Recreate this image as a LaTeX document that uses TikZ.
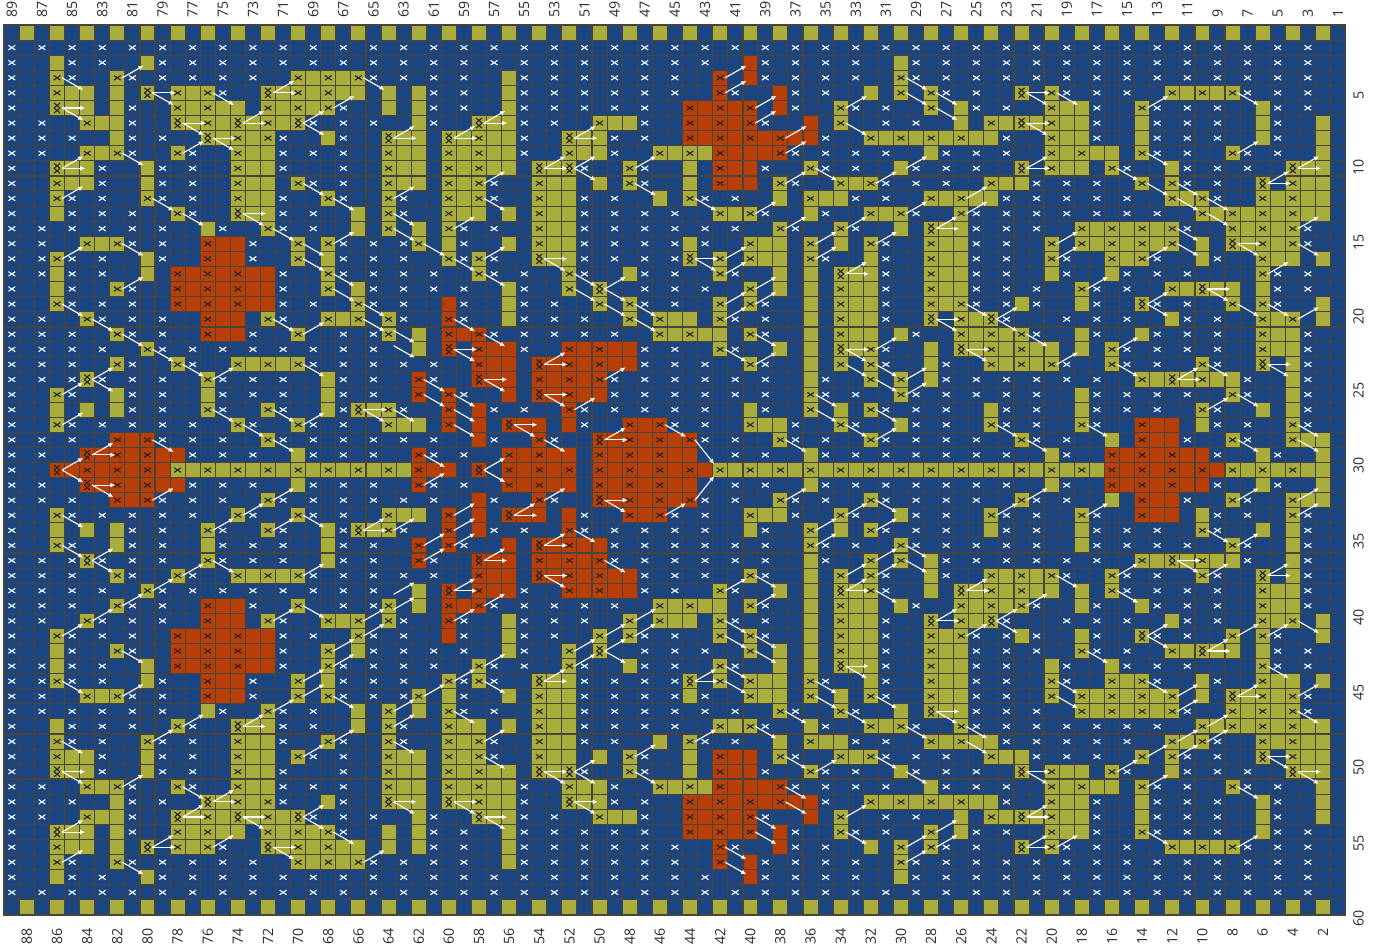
\documentclass[tikz,border=0pt]{standalone}
\usepackage{fontspec}
\setmainfont{Open Sans}
\usetikzlibrary{arrows.meta}
\definecolor{cblue}{RGB}{27,69,128}
\definecolor{colive}{RGB}{169,173,59}
\definecolor{cred}{RGB}{184,62,8}
\definecolor{cgrid}{RGB}{72,68,60}
\definecolor{clabel}{RGB}{45,45,45}
\tikzset{
  xmark/.style={line width=1.1pt,line cap=butt},
  arrowline/.style={white,line width=1.1pt,-{Latex[length=5pt,width=4.8pt]}},
  tick/.style={text=clabel,font=\fontsize{14.2}{15}\selectfont,inner sep=0pt,rotate=90}
}
\newcommand\putcell[3]{% row, col, colour
  \pgfmathsetmacro\xa{4.3+(89-#2)*15.07}\pgfmathsetmacro\ya{25+(#1-1)*15.085}
  \fill[#3] (\xa,\ya) rectangle ++(15.07,15.085);}
\newcommand\putx[3]{% row, col, colour
  \pgfmathsetmacro\xa{4.3+(89.5-#2)*15.07}\pgfmathsetmacro\ya{25+(#1-0.5)*15.085}
  \draw[xmark,#3] (\xa-3.4,\ya-2.3)--(\xa+3.4,\ya+2.3) (\xa-3.4,\ya+2.3)--(\xa+3.4,\ya-2.3);}
\newcommand\putxx[2]{%
  \pgfmathsetmacro\xa{4.3+(89.5-#2)*15.07}\pgfmathsetmacro\ya{25+(#1-0.5)*15.085}
  \draw[xmark,black!85] (\xa-3,\ya-5)--(\xa+3,\ya) (\xa-3,\ya)--(\xa+3,\ya-5)
     (\xa-3,\ya)--(\xa+3,\ya+5) (\xa-3,\ya+5)--(\xa+3,\ya);}
\newcommand\docell[3]{% row,col,char
  \if#3w\putx{#1}{#2}{white}\fi
  \if#3o\putcell{#1}{#2}{colive}\fi
  \if#3r\putcell{#1}{#2}{cred}\fi
  \if#3O\putcell{#1}{#2}{colive}\putx{#1}{#2}{black!85}\fi
  \if#3R\putcell{#1}{#2}{cred}\putx{#1}{#2}{black!85}\fi
  \if#3D\putcell{#1}{#2}{colive}\putxx{#1}{#2}\fi
  \if#3E\putcell{#1}{#2}{cred}\putxx{#1}{#2}\fi}
\newcount\curcol
\def\parserow#1{\ifx#1\relax\else
  \if#1.\else
    \docell{\the\numexpr\currow\relax}{\the\curcol}{#1}%
    \ifnum\currow<30 \docell{\the\numexpr60-\currow\relax}{\the\curcol}{#1}\fi
  \fi
  \advance\curcol by -1
  \expandafter\parserow\fi}
\newcommand\gridrow[2]{\def\currow{#1}\curcol=89 \parserow#2\relax}
\newcommand\onearrow[4]{% col,row,dr,shift
  \pgfmathsetmacro\xa{4.3+(89.5-#1)*15.07+5}\pgfmathsetmacro\ya{25+(#2-0.5)*15.085+#4}
  \pgfmathsetmacro\xb{4.3+(89.5-(#1-2))*15.07-2-2*abs(#3)}\pgfmathsetmacro\yb{25+(#2+#3-0.5)*15.085-3*#3+#4}
  \draw[arrowline] (\xa,\ya)--(\xb,\yb);}
\newcommand\twoarrow[4]{\onearrow{#1}{#2}{#3}{#4}\pgfmathtruncatemacro\mr{60-#2}\pgfmathtruncatemacro\md{-1*#3}\onearrow{#1}{\mr}{\md}{-#4}}
\begin{document}
\begin{tikzpicture}[x=1pt,y=-1pt]
\useasboundingbox (0,0) rectangle (1379,946);
\fill[white] (0,0) rectangle (1379,946);
\fill[cblue] (4.3,25) rectangle (1345.5,915);
% cells: columns 89..1, rows 1..30, rows 31..59 are the mirror image
\gridrow{1}{.o.o.o.o.o .o.o.o.o.o .o.o.o.o.o .o.o.o.o.o .o.o.o.o.o .o.o.o.o.o .o.o.o.o.o .o.o.o.o.o .o.o.o.o.}
\gridrow{2}{w.w.w.w.w. w.w.w.w.w. w.w.w.w.w. w.w.w.w.w. w.w.w.w.w. w.w.w.w.w. w.w.w.w.w. w.w.w.w.w. w.w.w.w..}
\gridrow{3}{w..ow.w..o w.w.w.w.w. w.w.w.w.w. w.w.w.w.w. w.w.w.w..r w.w.w.w..o w.w.w.w.w. w.w.w.w.w. w.w.w.w..}
\gridrow{4}{w..Ow..Ow. w.w.w.w..O oOoOw.w.w. w..ow.w.w. w.w.w..R.r w.w.w.w..O w.w.w.w.w. w.w.w.w.w. w.w.w.w..}
\gridrow{5}{w..Ooo.o.D .OoOw..DoO oOoo.o.ow. w..ow.w.w. w.w.w..Rw. .rw.w..o.O .Ow.w..D.O w.w.w..OoO oOw.w.w..}
\gridrow{6}{w..Doo.ow. .OoOoo.OoO oOw..o.ow. w..ow.w.w. w.w..RrRrR .rw..Ow.w. .O.ow.w..O oow..Ow.w. w..ow.w..}
\gridrow{7}{w.w..Ooow. .DoOoDoOoD w.w.w..ow. .Doow.w..O oow..RrRrR w..r.O..w. w..o.OoDoO oow..ow.w. w..ow..o.}
\gridrow{8}{w.w.w..ow. w..DoOoOw. .ow..Doo.D oOoow..Doo w.w..RrRrR rRrrw..OoO oOoOoow..O oow..ow.w. w..ow..o.}
\gridrow{9}{w.w..OoOw. .Ow..Ooow. w.w..Ooo.O oOoow..Ooo w..OoOoRrr rRw.w.w.w. .ow.w.w..O oOoo.Ow.w. .Ow.w..o.}
\gridrow{10}{w..Doow..o w.w..Ooow. ..w..Ooo.O oOoo.DoDw. .Ow..o.Rrr w..Ow.w..o w.w.w..D.O oo.Ow..ow. w.w..Doo.}
\gridrow{11}{w..Ooow..o w.w..Ooo.O w.w..Ooo.O oOw..Ooo.o .Ow..o.Rrr .Ow..OoOw. w.w..Ooow. w.w..O.Ow. w..D.Ooo.}
\gridrow{12}{w..Ow.w..O w.w..Ooow. .Ow..Ow..O oOw..Ooow. w..o.Ow.w. .o.Ooow.w. .OoOoow.w. w.w.w..OoO w..OoOoo.}
\gridrow{13}{w..ow.w.w. .Ow..Doow. w..o.Ow..O oo.o.Ooow. w.w.w..OoO w..ow..OoO w..Ow.w.w. w.w.w.w..O oOoOoOoo.}
\gridrow{14}{w.w.w.w.w. w..ow..Ow. w..o.O.o.O w.w..Ooow. w.w.w.w.w. .Ow..Ow..o .Doow.w.w. .OoOoOoOw. .OoOoOw..}
\gridrow{15}{w.w..OoOw. w..Rrrw..O .Ow.w.wO.o w..o.Ooow. w.w.wow..O oo.O.o.Ow. .Ooow.w..O .OoOoOoO.o .DoOoOw..}
\gridrow{16}{w.wOw.w..o w..Rrrw..O .ow.w.w..O wOw..Doow. w.w.wD.O.O oo.Ow..ow. .Ooow.w..O w..OoOw..o w..Ooo.o.}
\gridrow{17}{w.wow.w..o .RrRrRrrw. .Ow.w.w.w. .Ow.w..Ow. .ow.w..Ow. .o.o.Doow. .Ooow.w..o w..ow.w.w. ...Ow.w..}
\gridrow{18}{w..ow..Ow. .RrRrRrrw. .O.ow.w.w. w..ow..O.D ..w.w.w..O .o.o.Ooow. .Ooow.w.w. .Ow.w..OoD oo.ow.w..}
\gridrow{19}{w..Ow.w.w. .RrRrRrrw. w..Ow.w..r w..ow.w..O .Ow.w..O.O w..o.Ooow. .OoOw.wow. .ow..Dw.w. .O.Ow..o.}
\gridrow{20}{w.w..Ow.w. w..Rrr.Ow. .OoO.Ow..R w..ow.w.w. .O.Ooo.Ow. w..o.Ooow. .D.OoDw... w.w.w..ow. w..OoO.o.}
\gridrow{21}{w.w.w..Ow. w..Rrrw..O ..w.wO.o.R rRw.w.w.w. w..OoOoo.O w..o.Ooo.o w..OoOoOw. .ow..ow.w. w..Ooow..}
\gridrow{22}{w.w.w.w..O w.w.w.w.w. w.w.w..o.E .Rrrw..RrR rrw.w..Ow. .o.o.DoOw. .o.DoOoOoo .o.Ow.w.w. w..Ooow..}
\gridrow{23}{w.w.w..Ow. .Ow..OoOoO w.w.w.w.w. .Rrr.ErRrR rrw.w.w..O w..o.O.Ow. .ow..OoOoO w..Ow.w..O w..D.ow..}
\gridrow{24}{w.w.wDw.w. w..Ow.w.w. .ow.w..Rw. .Err.RrRrR w.w.w.w.w. w..ow..O.O .ow.w.w.w. w.w..OoDoO oow..ow..}
\gridrow{25}{w..Ow..ow. w..ow.w.w. .ow.w..R.R w..r.ErRrr w.w.w.w.w. w..Ow.w..O w.w.w.w.w. .ow.w.w.w. .Ow..ow..}
\gridrow{26}{w..o.o.ow. w..Ow..Ow. .owDoOw..R .rw.w..Rw. w.w.w.w..o w..O.o.Ow. w.w..ow.w. .ow.w.w..O w..o.ow..}
\gridrow{27}{w..Ow.w.w. w.w..Ow..O w.w..Ooo.R .r.Err.rw. .RrRw.w..O oow..Ow..o w.w..Ow.w. .Ow..Rrr.o w.w..Ow..}
\gridrow{28}{w.w.w..RrR w.w.w..Ow. w.w.w.w.w. .rw..Rw..E rRrRrRw.w. .Ow.w..Ow. w.w.w..Ow. w..o.Rrrw. .Ow..Ooo.}
\gridrow{29}{w.w..ErRrR rrw.w.w..o w.w.w..Rw. w..RrRrr.R rRrRrr..w. w..ow.w.w. w.w.w.w..o w..RrRrRrr w..ow..o.}
\gridrow{30}{w..ErRrRrR rOoOoOoOoO oOoOoOoRrr .E.RrRrR.R rRrRrRrOoO oOoOoOoOoO oOoOoOoOoO oOoRrRrRrR rOoOoOoo.}
% grid
\foreach \i in {1,...,88}{\pgfmathsetmacro\xa{4.3+\i*15.07}\draw[cgrid,line width=1.05pt] (\xa,25)--(\xa,915);}
\foreach \i in {1,...,58}{\pgfmathsetmacro\ya{25+\i*15.085}\draw[cgrid,line width=1.05pt] (4.3,\ya)--(1345.5,\ya);}
\foreach \i in {9,19,...,79}{\pgfmathsetmacro\xa{4.3+\i*15.07}\draw[cgrid,line width=1.6pt] (\xa,25)--(\xa,915);}
\foreach \i in {10,20,...,50}{\pgfmathsetmacro\ya{25+\i*15.085}\draw[cgrid,line width=1.6pt] (4.3,\ya)--(1345.5,\ya);}
\draw[cgrid,line width=1.9pt] (4.3,25) rectangle (1345.5,915);
% arrows
\foreach \c/\r/\d in {
86/4/1,82/4/-1,80/5/0,80/5/1,76/5/1,72/5/-1,72/5/0,86/6/0,86/6/1,78/7/0,78/7/1,74/7/-1,74/7/0,70/7/-1,70/7/1,78/9/-1,76/8/0,76/8/1,86/10/-1,86/10/0,82/9/1,86/12/-1,80/12/1,78/13/1,74/13/0,74/13/1,72/14/1,70/11/1,68/12/1,68/6/-1,68/15/-1,
66/4/1,64/8/-1,64/8/0,60/8/-1,60/8/0,58/7/-1,58/7/0,52/8/-1,52/8/0,54/10/-1,54/10/0,52/10/-1,52/10/1,48/10/-1,48/11/1,58/11/-1,58/12/1,64/12/-1,64/13/1,64/14/1,60/14/-1,
42/4/-1,42/5/-1,40/6/-1,40/7/-1,38/8/-1,38/9/-1,34/6/-1,34/7/1,30/4/1,30/5/1,28/5/1,28/6/1,30/10/-1,38/11/-1,36/10/1,32/11/-1,44/12/1,40/13/-1,38/14/-1,34/14/-1,36/15/-1,32/15/-1,30/13/-1,26/12/-1,26/13/-1,28/14/-1,28/14/0,22/5/0,22/5/1,22/7/0,22/7/1,22/10/-1,22/10/0,
20/5/1,14/6/-1,8/5/1,8/9/-1,14/9/1,4/10/-1,4/10/0,6/11/-1,6/11/0,16/10/1,14/11/1,12/11/1,12/12/1,10/12/1,10/13/1,4/14/-1,12/14/1,20/15/-1,
86/16/-1,82/15/1,82/18/-1,86/19/1,84/20/1,82/21/1,80/22/1,78/23/1,76/24/-1,70/15/1,70/16/1,68/17/1,68/18/1,72/20/1,70/21/-1,70/23/1,84/24/-1,84/24/1,86/25/-1,86/27/-1,76/26/1,74/27/1,72/26/1,70/27/-1,72/28/1,80/28/1,84/29/-1,84/29/0,86/30/-1,
62/15/1,58/16/-1,60/16/1,58/17/1,54/16/0,54/16/1,52/17/1,52/18/1,50/18/-1,50/18/1,50/19/1,48/19/1,48/20/1,66/19/1,66/20/1,60/22/0,60/22/1,60/20/1,58/21/1,58/24/0,58/24/1,62/24/1,62/25/1,60/25/1,60/26/1,60/27/1,54/23/-1,54/23/0,54/25/0,54/25/1,50/24/-1,52/26/-1,66/26/0,66/26/1,64/26/1,56/27/0,56/27/1,54/28/1,50/28/-1,50/28/0,46/27/1,62/29/1,58/30/-1,
44/16/0,44/16/1,42/16/-1,42/17/-1,40/18/-1,40/19/-1,42/19/-1,42/20/-1,36/16/-1,34/17/-1,34/17/0,42/22/1,40/21/1,40/23/-1,34/22/0,34/22/1,32/22/-1,34/23/1,32/23/1,32/24/1,30/24/-1,30/25/-1,28/20/0,28/20/1,26/19/1,24/20/-1,24/20/1,22/21/1,26/22/0,26/22/1,36/25/1,36/26/1,34/27/1,32/26/1,32/28/-1,38/28/1,24/27/1,22/28/1,44/28/2,
20/16/-1,14/16/-1,12/15/1,8/15/0,8/15/1,6/17/-1,4/15/1,18/18/-1,10/18/0,10/18/1,8/19/1,6/19/1,4/20/-1,14/19/-1,14/19/1,16/22/-1,20/23/-1,16/23/1,12/24/-1,12/24/0,10/23/1,6/23/0,6/23/1,8/25/1,10/26/-1,4/27/1,4/28/1,18/27/1,8/28/1}
  {\twoarrow{\c}{\r}{\d}{0}}
\twoarrow{64}{21}{1}{-3.7}
\twoarrow{64}{22}{1}{-3.7}
% labels
\foreach \c in {89,87,...,1}{\pgfmathsetmacro\xa{4.3+(89.5-\c)*15.07}
  \node[tick,anchor=west] (top\c) at (\xa,18) {\c};}
\foreach \c in {88,86,...,2}{\pgfmathsetmacro\xa{4.3+(89.5-\c)*15.07}
  \node[tick,anchor=east] (bot\c) at (\xa,928) {\c};}
\foreach \r/\yy in {5/95,10/167,15/242,20/316,25/390,30/465,35/541,40/617,45/692,50/767,55/843,60/918}
  {\node[tick] (right\r) at (1358.5,\yy) {\r};}
\end{tikzpicture}
\end{document}
